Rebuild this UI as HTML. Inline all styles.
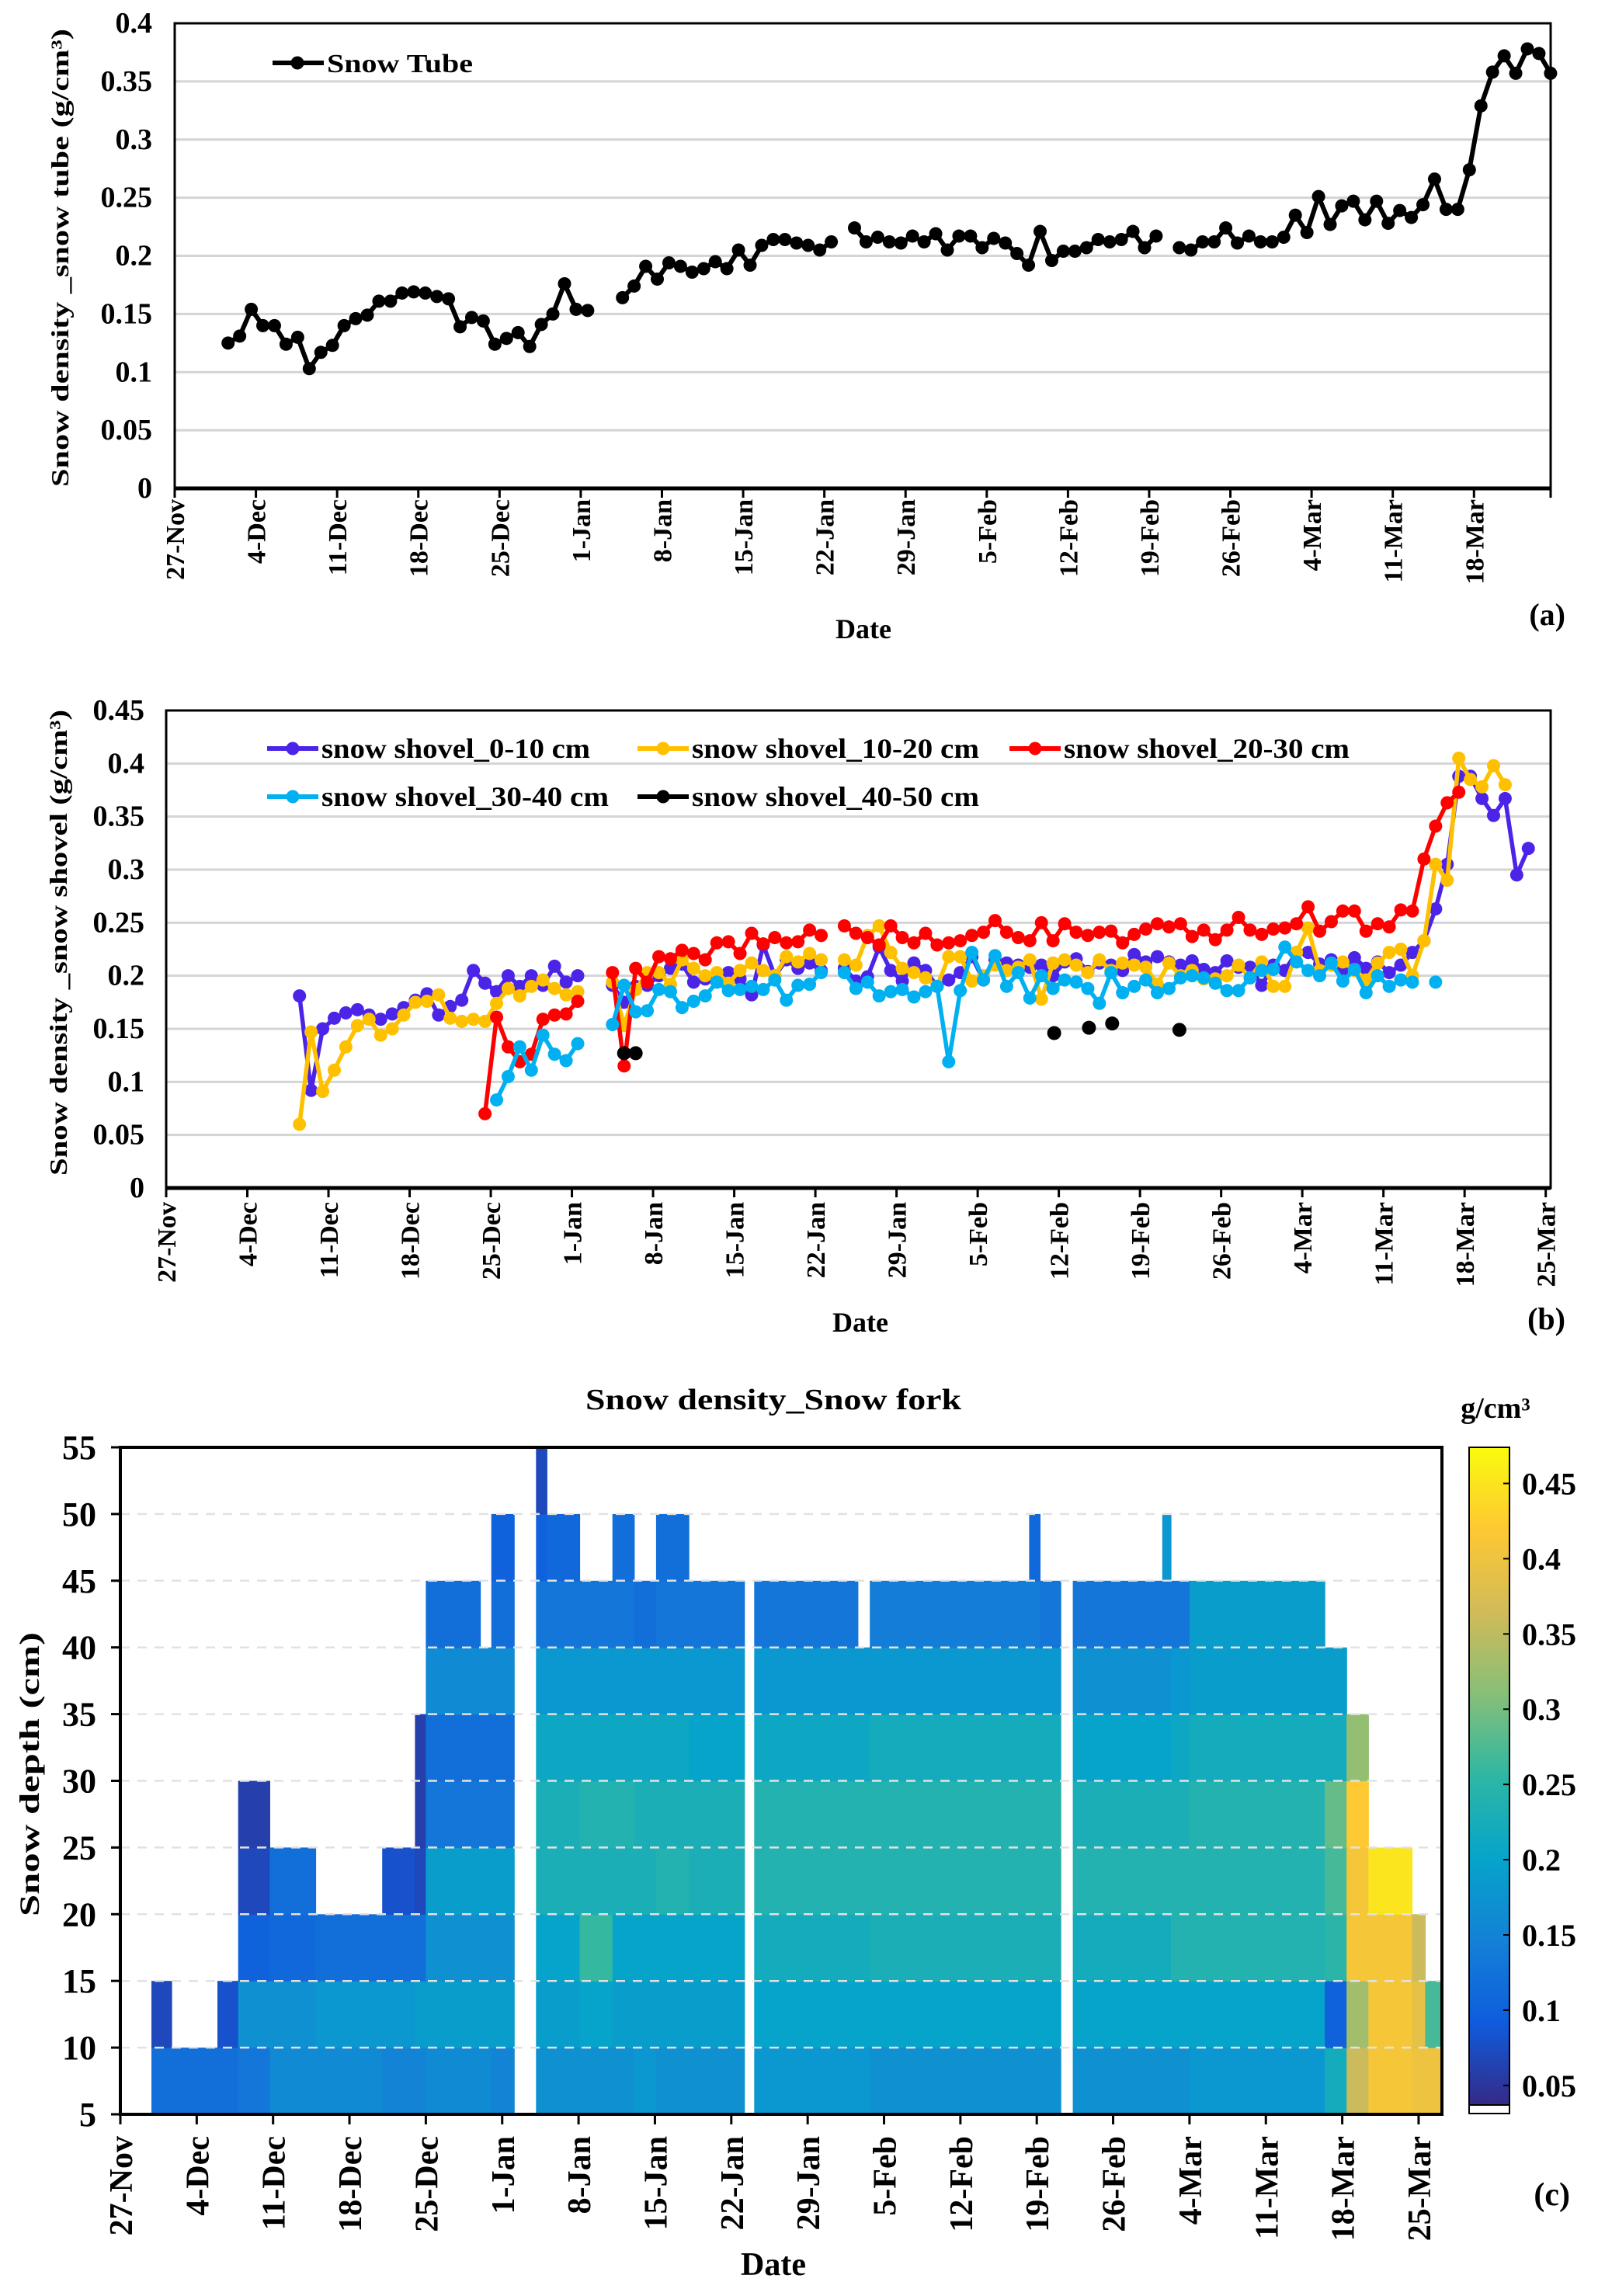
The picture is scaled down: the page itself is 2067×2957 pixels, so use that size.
<!DOCTYPE html>
<html><head><meta charset="utf-8"><title>Snow density</title>
<style>
html,body{margin:0;padding:0;background:#fff;}
svg{display:block;font-family:"Liberation Serif",serif;font-weight:bold;}
</style></head>
<body>
<svg id="fig" width="2067" height="2957" viewBox="0 0 2067 2957" xmlns="http://www.w3.org/2000/svg">
<rect x="0" y="0" width="2067" height="2957" fill="#fff"/>
<g id="pa"></g>
<g id="pb"></g>
<g id="pc"></g>
</svg>
<script>
// ---------- DATA ----------
const weekLabels = ["27-Nov","4-Dec","11-Dec","18-Dec","25-Dec","1-Jan","8-Jan","15-Jan","22-Jan","29-Jan","5-Feb","12-Feb","19-Feb","26-Feb","4-Mar","11-Mar","18-Mar","25-Mar"];
const ticksA = [0,0.05,0.1,0.15,0.2,0.25,0.3,0.35,0.4];
const ticksB = [0,0.05,0.1,0.15,0.2,0.25,0.3,0.35,0.4,0.45];
const ticksC = [5,10,15,20,25,30,35,40,45,50,55];
const cbTicks = [0.05,0.1,0.15,0.2,0.25,0.3,0.35,0.4,0.45];

const tubeStart = 4.6;
const tubeVals = [.125,.131,.154,.140,.140,.124,.130,.103,.117,.123,.140,.146,.149,.161,.161,.168,.169,.168,.165,.163,.139,.147,.144,.124,.129,.134,.122,.141,.150,.176,.154,.153,
null,null,
.164,.174,.191,.180,.194,.191,.186,.189,.195,.189,.205,.192,.209,.214,.214,.211,.209,.205,.212,
null,
.224,.212,.216,.212,.211,.217,.212,.219,.205,.217,.217,.207,.215,.211,.202,.192,.221,.196,.204,.204,.207,.214,.212,.214,.221,.207,.217,
null,
.207,.205,.212,.212,.224,.211,.217,.212,.212,.216,.235,.220,.251,.227,.243,.247,.231,.247,.228,.239,.233,.244,.266,.240,.240,.274,.329,.358,.372,.357,.378,.374,.357];

const blueStart = 11.5;
const blueVals = [.181,.092,.150,.160,.165,.168,.163,.159,.164,.170,.177,.183,.163,.171,.177,.205,.193,.185,.200,.190,.200,.191,.209,.194,.200,
null,null,
.191,.175,.190,.191,.200,.207,.211,.194,
.197,.200,.203,.197,.182,.229,.200,.215,.207,.212,.205,
null,
.207,.195,.199,.227,.205,.195,.212,.205,.190,.196,.203,.218,.196,.215,.212,.210,.208,.210,.200,.213,.216,.204,.212,.210,.205,
.220,.213,.218,.213,.210,.214,.206,.203,.214,.208,.208,.191,.210,.205,.222,.222,.211,.215,.203,.217,.207,.213,.203,.210,.222,
.233,.263,.305,.388,.388,.367,.351,.367,.295,.320];

const yellowStart = 11.5;
const yellowVals = [.060,.147,.091,.111,.133,.153,.159,.144,.150,.163,.175,.176,.182,.160,.157,.159,.157,.174,.188,.181,.190,.196,.188,.182,.185,
null,null,
.194,.153,.187,.203,.203,.192,.215,.207,
.200,.203,.193,.205,.212,.205,.200,.218,.213,.221,.215,
null,
.215,.210,.238,.247,.222,.207,.203,.198,.190,.218,.218,.195,.200,.210,.205,.208,.215,.178,.212,.215,.210,.203,.215,.205,.212,
.210,.208,.192,.212,.200,.205,.197,.197,.200,.210,.198,.213,.190,.190,.222,.245,.205,.210,.213,.205,.196,.212,.222,.225,.200,
.233,.305,.290,.405,.385,.378,.398,.380];

const redStart = 27.5;
const redVals = [.070,.161,.133,.119,.126,.159,.163,.164,.176,
null,null,
.203,.115,.207,.194,.218,.216,.224,.221,
.215,.231,.232,.221,.240,.230,.236,.231,.232,.243,.238,
null,
.247,.240,.236,.229,.247,.236,.231,.240,.229,.231,.233,.238,.241,.252,.241,.236,.233,.250,.233,.249,.241,.238,.241,.242,.231,
.239,.244,.249,.246,.249,.237,.243,.234,.243,.255,.243,.239,.244,.245,.249,.265,.242,.251,.261,.261,.242,.249,.246,.262,.261,
.310,.341,.363,.373];

const cyanStart = 28.5;
const cyanVals = [.083,.105,.133,.111,.144,.126,.120,.136,
null,null,
.154,.191,.166,.167,.187,.185,.170,.176,
.181,.194,.186,.187,.190,.187,.196,.177,.191,.192,.203,
null,
.203,.188,.194,.181,.185,.187,.180,.185,.190,.119,.186,.222,.196,.219,.190,.203,.179,.200,.188,.196,.194,.188,.174,.203,.184,
.190,.196,.184,.188,.198,.200,.198,.193,.186,.186,.198,.205,.206,.227,.213,.205,.200,.212,.195,.206,.184,.200,.190,.196,.194,
null,.194];

const blackDays = [39.5,40.5,76.6,79.6,81.6,87.4];
const blackVals = [.127,.127,.146,.151,.155,.149];

// heatmap blocks: start day, end day, top depth (cm), densities per 5-cm layer from 5 cm upward
const hmStart = [2.85,4.7,8.9,10.8,13.7,17.9,24.0,27.0,28.0,33.0,34.0,38.1,39.1,42.1,45.1,47.1,49.1,52.1,58.1,67.6,68.7,83.3,84.3,87.3,95.5,96.3,98.0,110.4,112.4,114.4,118.4,119.6];
const hmEnd   = [4.7,8.9,10.8,13.7,17.9,24.0,27.0,28.0,33.0,34.0,36.1,39.1,42.1,45.1,47.1,49.1,52.1,57.2,67.6,68.7,83.3,84.3,86.2,95.5,96.3,98.0,110.4,112.4,114.4,118.4,119.6,121.5];
const hmTop   = [15,10,15,30,25,20,25,35,45,40,50,55,50,45,50,45,50,45,45,40,45,50,45,45,50,45,45,40,35,25,20,15];
const hmVals = [
 [.12,.07],[.12],[.12,.08],[.13,.17,.10,.07,.06],[.16,.17,.11,.12],[.16,.18,.12],[.15,.18,.12,.08],
 [.15,.19,.12,.07,.06,.06],[.16,.19,.17,.19,.13,.12,.16,.12],[.16,.19,.17,.19,.13,.12,.16],
 [.15,.19,.17,.19,.13,.12,.16,.12,.10],[.17,.19,.20,.23,.23,.21,.18,.13,.10,.07],
 [.17,.19,.20,.23,.23,.21,.18,.13,.11],[.17,.20,.26,.23,.24,.21,.18,.13],[.17,.19,.20,.23,.24,.21,.18,.13,.12],
 [.18,.19,.20,.23,.23,.21,.18,.12],[.17,.19,.20,.24,.23,.21,.18,.13,.12],[.17,.19,.20,.23,.23,.20,.18,.13],
 [.18,.20,.22,.24,.24,.21,.18,.13],[.18,.20,.22,.24,.24,.21,.18],[.17,.20,.23,.24,.24,.22,.18,.14],
 [.17,.20,.23,.24,.24,.22,.18,.14,.11],[.17,.20,.23,.24,.24,.22,.18,.13],[.17,.20,.22,.24,.23,.20,.17,.13],
 [.17,.20,.22,.24,.23,.20,.17,.13,.18],[.17,.20,.24,.24,.23,.21,.18,.13],[.18,.20,.24,.24,.24,.22,.19,.19],
 [.22,.10,.25,.27,.29,.22,.19],[.36,.33,.41,.41,.42,.32],[.41,.41,.41,.45],[.40,.39,.36],[.40,.27]
];

// ---------- HELPERS ----------
const NS = "http://www.w3.org/2000/svg";
function mk(parent, tag, attrs, text){
  const e = document.createElementNS(NS, tag);
  for (const k in attrs) e.setAttribute(k, attrs[k]);
  if (text !== undefined) e.textContent = text;
  parent.appendChild(e);
  return e;
}
const parula = [[0,[53,42,135]],[0.125,[15,92,221]],[0.25,[20,129,214]],[0.375,[6,164,202]],[0.5,[46,183,164]],[0.625,[135,191,119]],[0.75,[209,187,89]],[0.875,[254,200,50]],[1,[249,251,14]]];
function pcol(t){
  t = Math.max(0, Math.min(1, t));
  for (let i=1;i<parula.length;i++){
    if (t <= parula[i][0]){
      const a=parula[i-1], b=parula[i]; const f=(t-a[0])/(b[0]-a[0]);
      const c=a[1].map((v,j)=>Math.round(v+(b[1][j]-v)*f));
      return "rgb("+c.join(",")+")";
    }
  }
  return "rgb(249,251,14)";
}

// ---------- PANEL A ----------
(function(){
  const g = document.getElementById("pa");
  const L=225, R=1997, T=30, B=629, dayPx=14.94, vmax=0.4;
  const xA = d => L + d*dayPx;
  const yA = v => B - v/vmax*(B-T);
  ticksA.forEach(v=>{
    if (v>0 && v<vmax){ const gl = mk(g,"line",{x1:L,x2:R,y1:yA(v),y2:yA(v),stroke:"#d4d4d4","stroke-width":3});
        }
    const t = mk(g,"text",{x:196,y:yA(v)+12,"text-anchor":"end","font-size":38},String(v));
     
  });
  const ax = mk(g,"rect",{x:L,y:T,width:R-L,height:B-T,fill:"none",stroke:"#000","stroke-width":3});
   
  mk(g,"line",{x1:L,x2:R,y1:B,y2:B,stroke:"#000","stroke-width":5});
  weekLabels.slice(0,17).forEach((lab,i)=>{
    const x = xA(i*7);
    mk(g,"line",{x1:x,x2:x,y1:B,y2:B+12,stroke:"#000","stroke-width":3});
    const t = mk(g,"text",{x:0,y:0,"text-anchor":"end","font-size":34,transform:`translate(${x+12},${B+14}) rotate(-90)`},lab);
     
  });
  mk(g,"line",{x1:R,x2:R,y1:B,y2:B+12,stroke:"#000","stroke-width":3});
  // series
  let d = "", pen = false;
  tubeVals.forEach((v,i)=>{
    if (v===null){ pen=false; return; }
    d += (pen?"L":"M") + xA(tubeStart+i).toFixed(1) + "," + yA(v).toFixed(1);
    pen = true;
  });
  const ln = mk(g,"path",{d:d,fill:"none",stroke:"#000","stroke-width":6,"stroke-linejoin":"round"});
   
  tubeVals.forEach((v,i)=>{
    if (v===null) return;
    const c = mk(g,"circle",{cx:xA(tubeStart+i),cy:yA(v),r:8.5,fill:"#000"});
     
  });
  // legend
  const lg = mk(g,"g",{});
   
  mk(lg,"line",{x1:351,x2:417,y1:81,y2:81,stroke:"#000","stroke-width":6});
  mk(lg,"circle",{cx:383,cy:81,r:8.5,fill:"#000"});
  mk(lg,"text",{x:421,y:93,"font-size":34,textLength:188,lengthAdjust:"spacingAndGlyphs"},"Snow Tube");
  const yt = mk(g,"text",{x:0,y:0,"text-anchor":"middle","font-size":32,transform:"translate(88,332) rotate(-90)",textLength:590,lengthAdjust:"spacingAndGlyphs"},"Snow density _snow tube (g/cm³)");
   
  const xt = mk(g,"text",{x:1112,y:822,"text-anchor":"middle","font-size":36},"Date");
   
  const pl = mk(g,"text",{x:2016,y:805,"text-anchor":"end","font-size":40},"(a)");
   
})();

// ---------- PANEL B ----------
(function(){
  const g = document.getElementById("pb");
  const L=214, R=1997, T=915, B=1530, dayPx=14.93, vmax=0.45;
  const xB = d => L + d*dayPx;
  const yB = v => B - v/vmax*(B-T);
  ticksB.forEach(v=>{
    if (v>0 && v<vmax){ const gl = mk(g,"line",{x1:L,x2:R,y1:yB(v),y2:yB(v),stroke:"#d4d4d4","stroke-width":3});
        }
    const t = mk(g,"text",{x:186,y:yB(v)+12,"text-anchor":"end","font-size":38},String(v));
     
  });
  const ax = mk(g,"rect",{x:L,y:T,width:R-L,height:B-T,fill:"none",stroke:"#000","stroke-width":3});
   
  mk(g,"line",{x1:L,x2:R,y1:B,y2:B,stroke:"#000","stroke-width":5});
  weekLabels.forEach((lab,i)=>{
    const x = xB(i*7);
    mk(g,"line",{x1:x,x2:x,y1:B,y2:B+12,stroke:"#000","stroke-width":3});
    const t = mk(g,"text",{x:0,y:0,"text-anchor":"end","font-size":34,transform:`translate(${x+12},${B+18}) rotate(-90)`},lab);
     
  });
  const series = [
    {name:"shovel-0-10",start:blueStart,vals:blueVals,color:"#4b24e8"},
    {name:"shovel-10-20",start:yellowStart,vals:yellowVals,color:"#ffc000"},
    {name:"shovel-20-30",start:redStart,vals:redVals,color:"#ff0000"},
    {name:"shovel-30-40",start:cyanStart,vals:cyanVals,color:"#00b0f0"}
  ];
  series.forEach(s=>{
    const sg = mk(g,"g",{});
     
    let d="", pen=false;
    s.vals.forEach((v,i)=>{
      if (v===null){pen=false;return;}
      d += (pen?"L":"M") + xB(s.start+i).toFixed(1) + "," + yB(v).toFixed(1);
      pen=true;
    });
    const ln = mk(sg,"path",{d:d,fill:"none",stroke:s.color,"stroke-width":5.5,"stroke-linejoin":"round"});
     
    s.vals.forEach((v,i)=>{
      if (v===null) return;
      const c = mk(sg,"circle",{cx:xB(s.start+i),cy:yB(v),r:8.5,fill:s.color});
       
    });
  });
  blackDays.forEach((dd,i)=>{
    const c = mk(g,"circle",{cx:xB(dd),cy:yB(blackVals[i]),r:9,fill:"#000"});
     
  });
  // legend
  const items = [
    {x:344,y:964,color:"#4b24e8",label:"snow shovel_0-10 cm",w:346},
    {x:821,y:964,color:"#ffc000",label:"snow shovel_10-20 cm",w:370},
    {x:1300,y:964,color:"#ff0000",label:"snow shovel_20-30 cm",w:368},
    {x:344,y:1026,color:"#00b0f0",label:"snow shovel_30-40 cm",w:370},
    {x:821,y:1026,color:"#000",label:"snow shovel_40-50 cm",w:370}
  ];
  items.forEach(it=>{
    const lg = mk(g,"g",{});
     
    mk(lg,"line",{x1:it.x,x2:it.x+66,y1:it.y,y2:it.y,stroke:it.color,"stroke-width":6});
    mk(lg,"circle",{cx:it.x+33,cy:it.y,r:8.5,fill:it.color});
    mk(lg,"text",{x:it.x+70,y:it.y+12,"font-size":36,textLength:it.w,lengthAdjust:"spacingAndGlyphs"},it.label);
  });
  const yt = mk(g,"text",{x:0,y:0,"text-anchor":"middle","font-size":32,transform:"translate(86,1214) rotate(-90)",textLength:600,lengthAdjust:"spacingAndGlyphs"},"Snow density _snow shovel (g/cm³)");
   
  const xt = mk(g,"text",{x:1108,y:1715,"text-anchor":"middle","font-size":36},"Date");
   
  const pl = mk(g,"text",{x:2016,y:1712,"text-anchor":"end","font-size":40},"(b)");
   
})();

// ---------- PANEL C ----------
(function(){
  const g = document.getElementById("pc");
  const L=155, R=1857, T=1864, B=2723, dayPx=14.05, dmin=5, dmax=55;
  const cmin=0.037, cmax=0.474;
  const xC = d => L + d*dayPx;
  const yC = v => B - (v-dmin)/(dmax-dmin)*(B-T);
  const col = v => pcol((v-cmin)/(cmax-cmin));
  // cells
  hmStart.forEach((s,i)=>{
    const x0 = xC(s), x1 = Math.min(xC(hmEnd[i]), R);
    hmVals[i].forEach((v,layer)=>{
      const z0 = 5 + layer*5;
      if (z0 >= hmTop[i]) return;
      const r = mk(g,"rect",{x:x0.toFixed(1),y:yC(z0+5).toFixed(1),width:(x1-x0+0.6).toFixed(1),height:(yC(z0)-yC(z0+5)+0.6).toFixed(1),fill:col(v)});
       
    });
  });
  // grid
  ticksC.forEach(v=>{
    if (v>dmin && v<dmax){ const gl = mk(g,"line",{x1:L,x2:R,y1:yC(v),y2:yC(v),stroke:"#e2e2e2","stroke-width":2.5,"stroke-dasharray":"12,10"});
        }
    mk(g,"line",{x1:L-12,x2:L,y1:yC(v),y2:yC(v),stroke:"#000","stroke-width":3});
    const t = mk(g,"text",{x:124,y:yC(v)+15,"text-anchor":"end","font-size":44},String(v));
     
  });
  const ax = mk(g,"rect",{x:L,y:T,width:R-L,height:B-T,fill:"none",stroke:"#000","stroke-width":4});
   
  weekLabels.forEach((lab,i)=>{
    const x = xC(i*7);
    mk(g,"line",{x1:x,x2:x,y1:B,y2:B+13,stroke:"#000","stroke-width":3});
    const t = mk(g,"text",{x:0,y:0,"text-anchor":"end","font-size":42,transform:`translate(${x+15},${B+28}) rotate(-90)`},lab);
     
  });
  const ti = mk(g,"text",{x:996,y:1815,"text-anchor":"middle","font-size":38,textLength:484,lengthAdjust:"spacingAndGlyphs"},"Snow density_Snow fork");
   
  const yt = mk(g,"text",{x:0,y:0,"text-anchor":"middle","font-size":36,transform:"translate(50,2285) rotate(-90)",textLength:366,lengthAdjust:"spacingAndGlyphs"},"Snow depth (cm)");
   
  const xt = mk(g,"text",{x:996,y:2930,"text-anchor":"middle","font-size":42},"Date");
   
  const pl = mk(g,"text",{x:2022,y:2840,"text-anchor":"end","font-size":42},"(c)");
   
  // colorbar
  const cbX=1892, cbW=52, cbT=1864, cbB=2711;
  const cy = v => cbB - (v-cmin)/(cmax-cmin)*(cbB-cbT);
  const defs = mk(g,"defs",{});
  const lgd = mk(defs,"linearGradient",{id:"parula",x1:0,y1:1,x2:0,y2:0});
  parula.forEach(p=>{ mk(lgd,"stop",{offset:p[0],"stop-color":"rgb("+p[1].join(",")+")"}); });
  const cb = mk(g,"rect",{x:cbX,y:cbT,width:cbW,height:cbB-cbT,fill:"url(#parula)",stroke:"#000","stroke-width":2});
   
  mk(g,"rect",{x:cbX,y:cbB,width:cbW,height:11,fill:"#fff",stroke:"#000","stroke-width":2});
  cbTicks.forEach(v=>{
    mk(g,"line",{x1:cbX+cbW-8,x2:cbX+cbW,y1:cy(v),y2:cy(v),stroke:"#000","stroke-width":2});
    const t = mk(g,"text",{x:1960,y:cy(v)+14,"font-size":40},String(v));
     
  });
  const un = mk(g,"text",{x:1926,y:1826,"text-anchor":"middle","font-size":38},"g/cm³");
   
})();
</script>
</body></html>
